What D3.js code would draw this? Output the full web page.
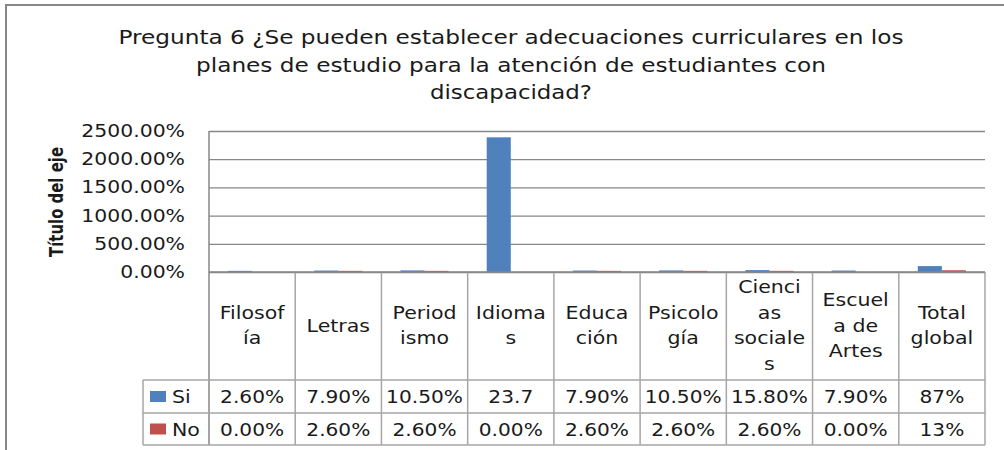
<!DOCTYPE html>
<html>
<head>
<meta charset="utf-8">
<script src="https://cdn.jsdelivr.net/npm/d3@7"></script>
<style>
  html, body { margin: 0; padding: 0; background: #fff; }
  svg { display: block; }
  text { font-family: "DejaVu Sans", Verdana, sans-serif; fill: #1a1a1a; }
</style>
</head>
<body>
<svg id="chart" width="1004" height="450"></svg>
<script>
// Pregunta 6 - column chart with Excel-style data table underneath
const titleLines = [
  "Pregunta 6 ¿Se pueden establecer adecuaciones curriculares en los",
  "planes de estudio para la atención de estudiantes con",
  "discapacidad?"
];
const categories = ["Filosofía", "Letras", "Periodismo", "Idiomas", "Educación",
  "Psicología", "Ciencias sociales", "Escuela de Artes", "Total global"];
// how the header cells wrap in the table
const headerLines = [["Filosof", "ía"], ["Letras"], ["Period", "ismo"], ["Idioma", "s"],
  ["Educa", "ción"], ["Psicolo", "gía"], ["Cienci", "as", "sociale", "s"],
  ["Escuel", "a de", "Artes"], ["Total", "global"]];
const seriesNames = ["Si", "No"];
const siValues = [0.026, 0.079, 0.105, 23.7, 0.079, 0.105, 0.158, 0.079, 0.87];
const noValues = [0.0, 0.026, 0.026, 0.0, 0.026, 0.026, 0.026, 0.0, 0.13];
const siLabels = ["2.60%", "7.90%", "10.50%", "23.7", "7.90%", "10.50%", "15.80%", "7.90%", "87%"];
const noLabels = ["0.00%", "2.60%", "2.60%", "0.00%", "2.60%", "2.60%", "2.60%", "0.00%", "13%"];
const yTicks = [0, 5, 10, 15, 20, 25];
const colors = ["#4f81bd", "#c0504d"];

const svg = d3.select("#chart");
const plot = { left: 209, right: 985, top: 131, bottom: 272 };
const rows = { header: 380, si: 413, no: 445, legendLeft: 143 };
const gridCol = "#878787", tableCol = "#a6a6a6";

// stretched text helper (the source fonts render wider than DejaVu)
function label(g, x, y, str, size, sx, anchor) {
  return g.append("text")
    .attr("transform", `translate(${x},${y}) scale(${sx},1)`)
    .attr("text-anchor", anchor || "middle")
    .attr("font-size", size)
    .text(str);
}

// outer chart border (top and left visible)
svg.append("path").attr("d", "M6,450 V5 H1004")
  .attr("fill", "none").attr("stroke", gridCol).attr("stroke-width", 2);

// title
const titleWidths = [785, 630, 162];
titleLines.forEach((t, i) => {
  svg.append("text")
    .attr("x", 511).attr("y", 44 + i * 27.5)
    .attr("text-anchor", "middle")
    .attr("font-size", 20)
    .style("font-family", "'DejaVu Sans Condensed', 'Liberation Sans Narrow', sans-serif")
    .attr("textLength", titleWidths[i]).attr("lengthAdjust", "spacingAndGlyphs")
    .text(t);
});

const x = d3.scaleBand().domain(categories).range([plot.left, plot.right]);
const xs = d3.scaleBand().domain(seriesNames).range([0, x.bandwidth()]).paddingInner(0).paddingOuter(0.79);
const y = d3.scaleLinear().domain([0, 25]).range([plot.bottom, plot.top]);

// gridlines
svg.append("g")
  .attr("transform", `translate(${plot.left},0)`)
  .call(d3.axisLeft(y).tickValues(yTicks).tickSize(-(plot.right - plot.left)).tickFormat(""))
  .call(g => g.select(".domain").remove())
  .call(g => g.selectAll(".tick line").attr("stroke", gridCol).attr("stroke-width", 1.3));

// tick labels
const tl = svg.append("g");
yTicks.forEach(v => {
  label(tl, 185, y(v) + 6, d3.format(".2%")(v), 17, 1.2, "end");
});

// axis title
svg.append("text")
  .attr("transform", `translate(63,202) rotate(-90)`)
  .attr("text-anchor", "middle")
  .attr("font-size", 20).attr("font-weight", "bold")
  .attr("textLength", 110).attr("lengthAdjust", "spacingAndGlyphs")
  .text("Título del eje");

// bars (a tiny extra pixel so very small values stay visible, as in Excel)
const series = [siValues, noValues];
series.forEach((vals, s) => {
  svg.append("g").selectAll("rect").data(vals.filter(d => d > 0).length ? vals : []).join("rect")
    .attr("x", (d, i) => x(categories[i]) + xs(seriesNames[s]))
    .attr("width", xs.bandwidth())
    .attr("y", d => y(d) - (d > 0 ? 1 : 0))
    .attr("height", d => d > 0 ? y(0) - y(d) + 1 : 0)
    .attr("fill", colors[s]);
});

// data table grid
const tg = svg.append("g").attr("stroke", tableCol).attr("stroke-width", 1.5).attr("fill", "none");
tg.append("line").attr("x1", plot.left).attr("x2", plot.left).attr("y1", plot.top).attr("y2", rows.no).attr("stroke", gridCol);
categories.forEach(c => {
  tg.append("line").attr("x1", x(c) + x.bandwidth()).attr("x2", x(c) + x.bandwidth())
    .attr("y1", plot.bottom).attr("y2", rows.no);
});
[rows.header, rows.si, rows.no].forEach(yy => {
  tg.append("line").attr("x1", rows.legendLeft).attr("x2", plot.right).attr("y1", yy).attr("y2", yy);
});
tg.append("line").attr("x1", rows.legendLeft).attr("x2", rows.legendLeft).attr("y1", rows.header).attr("y2", rows.no);
// category axis line
svg.append("line").attr("x1", plot.left).attr("x2", plot.right).attr("y1", plot.bottom).attr("y2", plot.bottom)
  .attr("stroke", gridCol).attr("stroke-width", 1.5);

// header cells
const hg = svg.append("g");
headerLines.forEach((lines, i) => {
  const cx = x(categories[i]) + x.bandwidth() / 2;
  const cy = (plot.bottom + rows.header) / 2 - 1;
  const lh = 25.5;
  lines.forEach((ln, j) => {
    label(hg, cx, cy + (j - (lines.length - 1) / 2) * lh + 6.5, ln, 18, 1.14);
  });
});

// value rows
const vg = svg.append("g");
[siLabels, noLabels].forEach((labs, s) => {
  const top = s === 0 ? rows.header : rows.si, bot = s === 0 ? rows.si : rows.no;
  labs.forEach((t, i) => {
    label(vg, x(categories[i]) + x.bandwidth() / 2, (top + bot) / 2 + 6.5, t, 18, 1.12);
  });
  // legend key
  vg.append("rect").attr("x", 150).attr("y", (top + bot) / 2 - 5.5).attr("width", 16).attr("height", 11).attr("fill", colors[s]);
  label(vg, 172, (top + bot) / 2 + 6.5, seriesNames[s], 18, 1.14, "start");
});
</script>
</body>
</html>
